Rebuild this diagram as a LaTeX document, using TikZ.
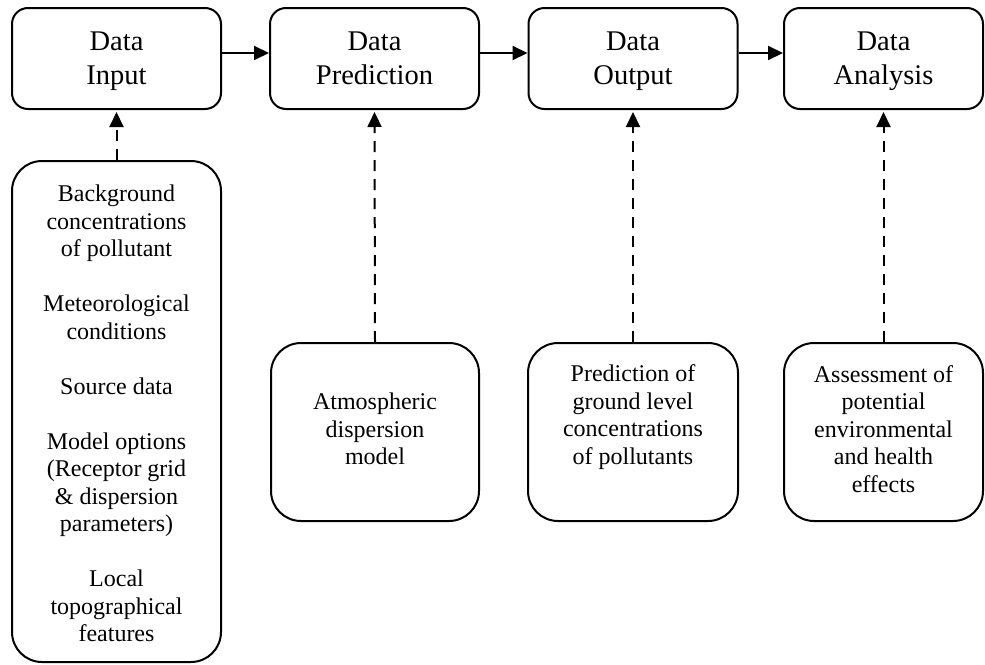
\documentclass[tikz,border=0pt]{standalone}
\usepackage{fontspec}
\setmainfont{Liberation Serif}
\usetikzlibrary{arrows.meta}
% fixed-height struts so that a text node's centre lies midway between its first and last baselines
\newcommand{\firststrut}{\rule{0pt}{20pt}}
\newcommand{\laststrut}{\rule[-20pt]{0pt}{20pt}}

\begin{document}
\begin{tikzpicture}[x=1pt,y=-1pt,
  stage/.style={draw, line width=2pt, rounded corners=16pt, minimum width=209pt, minimum height=101pt, inner sep=0pt},
  detail/.style={draw, line width=2pt, rounded corners=30pt, minimum width=209pt, inner sep=0pt},
  stagetext/.style={align=center, font=\fontsize{28.5}{34}\selectfont, inner sep=0pt},
  detailtext/.style={align=center, font=\fontsize{24}{27.5}\selectfont, inner sep=0pt},
  flow/.style={line width=2pt, -{Triangle[length=15pt,width=14pt]}},
  feed/.style={line width=2pt, dash pattern=on 11pt off 8pt, -{Triangle[length=15pt,width=14pt]}, shorten >=2pt},
]
\useasboundingbox (0,0) rectangle (985,664);

% main stages
\node[stage] (input)    at (116.5,58.5) {};
\node[stage] (predict)  at (374.5,58.5) {};
\node[stage] (output)   at (633,58.5) {};
\node[stage, minimum width=199pt] (analysis) at (883.5,58.5) {};

\node[stagetext] (input-t)    at (116.5,67) {\firststrut Data\\Input\laststrut};
\node[stagetext] (predict-t)  at (374.5,67) {\firststrut Data\\Prediction\laststrut};
\node[stagetext] (output-t)   at (633,67)   {\firststrut Data\\Output\laststrut};
\node[stagetext] (analysis-t) at (883.5,67) {\firststrut Data\\Analysis\laststrut};

% supporting details
\node[detail, minimum height=501pt] (inputs) at (116.5,411.5) {};
\node[detail, minimum height=178pt, minimum width=208pt] (model) at (375,432) {};
\node[detail, minimum height=178pt, minimum width=210pt] (levels) at (633,432) {};
\node[detail, minimum height=178pt, minimum width=199pt] (effects) at (883.5,432) {};

\node[detailtext] (inputs-t) at (116.5,421.5) {\firststrut Background\\concentrations\\of pollutant\\[27.5pt]
  Meteorological\\conditions\\[27.5pt]
  Source data\\[27.5pt]
  Model options\\(Receptor grid\\\& dispersion\\parameters)\\[27.5pt]
  Local\\topographical\\features\laststrut};
\node[detailtext] (model-t)   at (375,437)   {\firststrut Atmospheric\\dispersion\\model\laststrut};
\node[detailtext] (levels-t)  at (633,423)   {\firststrut Prediction of\\ground level\\concentrations\\of pollutants\laststrut};
\node[detailtext] (effects-t) at (883.5,437) {\firststrut Assessment of\\potential\\environmental\\and health\\effects\laststrut};

% process flow
\draw[flow] ([yshift=5.5pt]input.east)   -- ([yshift=5.5pt]predict.west);
\draw[flow] ([yshift=5.5pt]predict.east) -- ([yshift=5.5pt]output.west);
\draw[flow] ([yshift=5.5pt]output.east)  -- ([yshift=5.5pt]analysis.west);

% details feeding each stage
\draw[feed] (inputs.north)  -- (input.south);
\draw[feed] (model.north)   -- (predict.south);
\draw[feed] (levels.north)  -- (output.south);
\draw[feed] (effects.north) -- (analysis.south);
\end{tikzpicture}
\end{document}
